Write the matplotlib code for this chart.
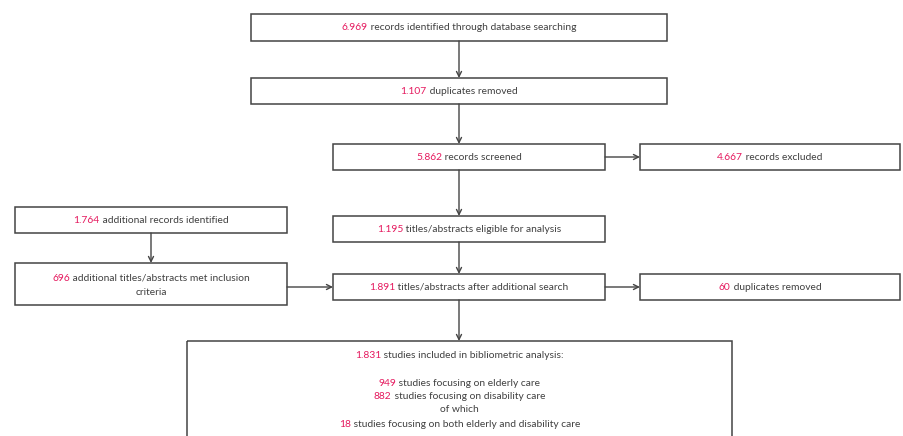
import matplotlib
matplotlib.use("Agg")
import matplotlib.pyplot as plt
from matplotlib.patches import Rectangle

# counts in the flow diagram
records_identified = 6969
duplicates_removed = 1107
records_screened = 5862
records_excluded = 4667
eligible = 1195
additional_identified = 1764
additional_included = 696
after_additional = 1891
duplicates_removed_2 = 60
included = 1831
elderly = 949
disability = 882
both = 18

# box labels: (number, rest of the text)
box_texts = {
    "ident": [(records_identified, " records identified through database searching")],
    "dup": [(duplicates_removed, " duplicates removed")],
    "screen": [(records_screened, " records screened")],
    "excl": [(records_excluded, " records excluded")],
    "elig": [(eligible, " titles/abstracts eligible for analysis")],
    "add": [(additional_identified, " additional records identified")],
    "addinc": [(additional_included, " additional titles/abstracts met inclusion"), (None, "criteria")],
    "after": [(after_additional, " titles/abstracts after additional search")],
    "dup2": [(duplicates_removed_2, " duplicates removed")],
    "final": [(included, " studies included in bibliometric analysis:"), (None, ""),
              (elderly, " studies focusing on elderly care"),
              (disability, " studies focusing on disability care"),
              (None, "of which"),
              (both, " studies focusing on both elderly and disability care")],
}

# box geometry in pixels: x0, y0, x1, y1
boxes = {
    "ident": (251, 14, 667, 41),
    "dup": (251, 78, 667, 104),
    "screen": (333, 144, 605, 170),
    "excl": (640, 144, 900, 170),
    "elig": (333, 216, 605, 242),
    "add": (15, 207, 287, 233),
    "addinc": (15, 263, 287, 305),
    "after": (333, 274, 605, 300),
    "dup2": (640, 274, 900, 300),
    "final": (187, 341, 732, 445),
}
line_y = {"final": [355, 369, 383, 396, 409, 424], "addinc": [278, 292]}

RED = "#e5195e"
GREY = "#404040"
FONT = ["Lato", "DejaVu Sans"]
FS = 7.4

fig = plt.figure(figsize=(9.04, 4.36), dpi=100)
ax = fig.add_axes([0, 0, 1, 1])
ax.set_xlim(0, 904)
ax.set_ylim(436, 0)
ax.axis("off")
renderer = fig.canvas.get_renderer()


def width_of(t):
    bb = t.get_window_extent(renderer=renderer)
    return bb.width


def draw_line(xc, y, num, rest):
    parts = []
    if num is not None:
        s = f"{num:,}".replace(",", ".")
        parts.append((s, RED))
    parts.append((rest, GREY))
    texts = [ax.text(0, y, s, color=c, fontsize=FS, family=FONT, va="center", ha="left")
             for s, c in parts]
    widths = [width_of(t) for t in texts]
    x = xc - sum(widths) / 2
    for t, w in zip(texts, widths):
        t.set_x(x)
        x += w


for key, (x0, y0, x1, y1) in boxes.items():
    ax.add_patch(Rectangle((x0, y0), x1 - x0, y1 - y0, fill=False,
                           edgecolor="#444444", linewidth=1.1))
    xc = (x0 + x1) / 2
    lines = box_texts[key]
    ys = line_y.get(key, [(y0 + y1) / 2])
    for (num, rest), y in zip(lines, ys):
        draw_line(xc, y, num, rest)


def arrow(x0, y0, x1, y1):
    ax.annotate("", xy=(x1, y1), xytext=(x0, y0),
                arrowprops=dict(arrowstyle="->", color="#444444", lw=1.0,
                                shrinkA=0, shrinkB=0, mutation_scale=9))


cx = 459
arrow(cx, 41, cx, 78)
arrow(cx, 104, cx, 144)
arrow(cx, 170, cx, 216)
arrow(cx, 242, cx, 274)
arrow(cx, 300, cx, 341)
arrow(605, 157, 640, 157)
arrow(605, 287, 640, 287)
arrow(151, 233, 151, 263)
arrow(287, 287, 333, 287)

fig.savefig("out.png", dpi=100)
